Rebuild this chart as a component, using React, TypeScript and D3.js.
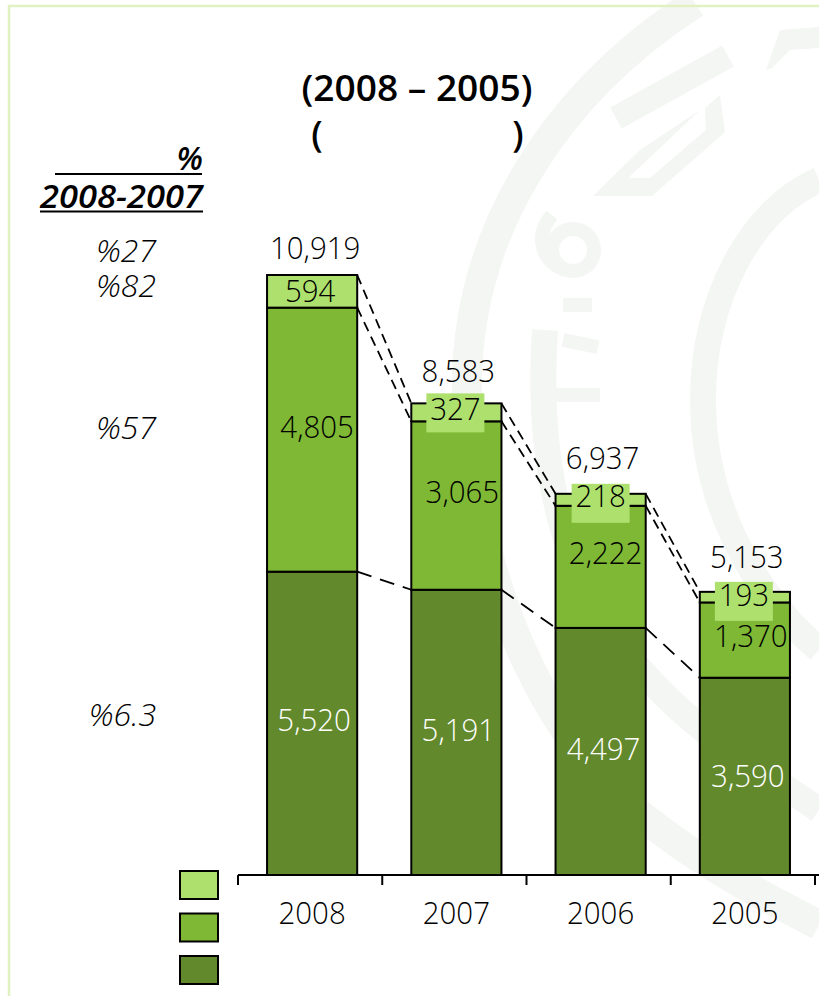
import React from "react";
import * as d3 from "d3";

const categories = ["2008", "2007", "2006", "2005"];
const seriesBottom = [5520, 5191, 4497, 3590];
const seriesMiddle = [4805, 3065, 2222, 1370];
const seriesTop = [594, 327, 218, 193];
const totals = [10919, 8583, 6937, 5153];
const changeLabels = ["%27", "%82", "%57", "%6.3"];
const legendColors = ["#AEE06E", "#7EB835", "#62892C"];

const W = 819, H = 996;
const FONT = "'Open Sans', 'Noto Sans', sans-serif";
const fmt = d3.format(",");
const x = d3.scaleBand<string>().domain(categories).range([239, 816]).paddingInner(0.375).paddingOuter(0.1875);
const y = d3.scaleLinear().domain([0, 10919]).range([875, 275]);

// label nudges relative to the bar centre (dx) and segment top (dy)
const dxTotal = [3, 2, 2, 2], dyTotal = [-16, -21, -25, -24];
const dxTop = [-2, -1, 0, -1], dyTop = [27, 17, 13, 14];
const dxMid = [5, 6, 5, 6], dyMid = [130, 82, 58, 45];
const dxBot = [2, 2, 3, 3], dyBot = [159, 151, 132, 109];
const chipped = [false, true, true, true];

function T(p: { x: number; y: number; s?: number; sx?: number; fill?: string; weight?: number; anchor?: string; italic?: boolean; children: any }) {
  return (
    <text
      transform={`translate(${p.x},${p.y}) scale(${p.sx ?? 0.92},1)`}
      fontFamily={FONT}
      fontSize={p.s ?? 32}
      fontWeight={p.weight ?? 350}
      fontStyle={p.italic ? "italic" : "normal"}
      textAnchor={p.anchor ?? "middle"}
      fill={p.fill ?? "#000"}
    >
      {p.children}
    </text>
  );
}

export default function App() {
  const bw = x.bandwidth();
  const stacks = categories.map((c, i) => {
    const b = seriesBottom[i], m = b + seriesMiddle[i], t = totals[i];
    return { c, i, x0: x(c)! + 1, yb: y(b), ym: y(m), yt: y(t) };
  });
  const line = d3.line();
  const segs: [number, number][][] = [];
  stacks.slice(0, -1).forEach((s, i) => {
    const n = stacks[i + 1];
    const l = s.x0 + bw, r = n.x0;
    segs.push([[l, s.yt], [r, n.yt]], [[l, s.ym], [r, n.ym]], [[l, s.yb], [r, n.yb]]);
  });
  const ticks = [...categories.map((c) => x(c)! - x.step() * 0.1875), x(categories[3])! + bw + x.step() * 0.1875];
  return (
    <svg width={W} height={H} style={{ position: "absolute", left: 0, top: 0 }}>
      <rect width={W} height={H} fill="#fff" />
      <g fill="none" stroke="#f4f6f3">
        <path strokeWidth={30} d="M695,3 C560,90 462,230 467,400 C472,600 560,760 660,830 C720,875 780,905 819,925" />
        <path strokeWidth={26} d="M545,330 C535,480 570,600 650,680 C700,735 760,770 819,810" />
        <path strokeWidth={26} d="M819,180 C750,210 703,300 703,400 C703,500 750,590 819,650" />
        <path strokeWidth={24} d="M616,118 L728,56" />
        <circle cx={573} cy={250} r={21} strokeWidth={14} />
        <path strokeWidth={14} d="M552,215 C535,235 540,260 565,270" />
        <path strokeWidth={14} d="M563,305 L592,305 M563,340 L598,347" />
        <path strokeWidth={14} d="M553,395 L600,395" />
      </g>
      <path fill="#f4f6f3" d="M593,196 L652,196 L725,132 L720,95 L705,108 L706,130 L650,178 L628,178 L700,110 L640,150 Z" />
      <path fill="#f4f6f3" d="M766,70 L780,30 L819,27 L819,48 L790,50 L772,68 Z" />
      <path d="M9,996 V6 H819" fill="none" stroke="#E2F1C2" strokeWidth={2.5} />

      <text x={417} y={101} textAnchor="middle" fontFamily={FONT} fontSize={36} fontWeight={600} fill="#000" textLength={231} lengthAdjust="spacingAndGlyphs">(2008 – 2005)</text>
      <text x={317} y={147} textAnchor="middle" fontFamily={FONT} fontSize={36} fontWeight={600} fill="#000">(</text>
      <text x={518} y={147} textAnchor="middle" fontFamily={FONT} fontSize={36} fontWeight={600} fill="#000">)</text>

      <T x={203} y={170} anchor="end" italic weight={600} sx={1}>%</T>
      <line x1={55} x2={202} y1={174} y2={174} stroke="#000" strokeWidth={2} />
      <text x={203} y={208} textAnchor="end" fontFamily={FONT} fontSize={33} fontStyle="italic" fontWeight={600} textLength={163} lengthAdjust="spacingAndGlyphs" fill="#000">2008-2007</text>
      <line x1={40} x2={203} y1={211.5} y2={211.5} stroke="#000" strokeWidth={2} />
      {changeLabels.map((l, i) => (
        <T key={l} x={156} y={[262, 297, 439, 726][i]} anchor="end" italic sx={1} weight={300}>{l}</T>
      ))}

      {stacks.map((s) => (
        <g key={s.c} stroke="#000" strokeWidth={2}>
          <rect x={s.x0} y={s.yb} width={bw} height={875 - s.yb} fill={legendColors[2]} />
          <rect x={s.x0} y={s.ym} width={bw} height={s.yb - s.ym} fill={legendColors[1]} />
          <rect x={s.x0} y={s.yt} width={bw} height={s.ym - s.yt} fill={legendColors[0]} />
        </g>
      ))}
      {segs.map((p, i) => (
        <path key={i} d={line(p)!} fill="none" stroke="#000" strokeWidth={1.8} strokeDasharray={i % 3 === 2 ? "15 9" : "10 6"} />
      ))}

      <line x1={238} x2={819} y1={875} y2={875} stroke="#000" strokeWidth={2} />
      {ticks.map((t, i) => (
        <line key={i} x1={t - 1} x2={t - 1} y1={875} y2={885} stroke="#000" strokeWidth={2} />
      ))}

      {stacks.map((s) => {
        const i = s.i, cx = s.x0 + bw / 2;
        return (
          <g key={s.c}>
            <T x={cx + dxTotal[i]} y={s.yt + dyTotal[i]}>{fmt(totals[i])}</T>
            {chipped[i] && (
              <rect x={cx + dxTop[i] - 29} y={s.yt - 10} width={58} height={39} fill={legendColors[0]} />
            )}
            <T x={cx + dxTop[i]} y={s.yt + dyTop[i]}>{fmt(seriesTop[i])}</T>
            <T x={cx + dxMid[i]} y={s.ym + dyMid[i]}>{fmt(seriesMiddle[i])}</T>
            <T x={cx + dxBot[i]} y={s.yb + dyBot[i]} fill="#fff">{fmt(seriesBottom[i])}</T>
            <T x={cx} y={924}>{s.c}</T>
          </g>
        );
      })}

      {legendColors.map((c, i) => (
        <rect key={c} x={180} y={871 + i * 42.5} width={38} height={28} fill={c} stroke="#000" strokeWidth={2} />
      ))}
    </svg>
  );
}
